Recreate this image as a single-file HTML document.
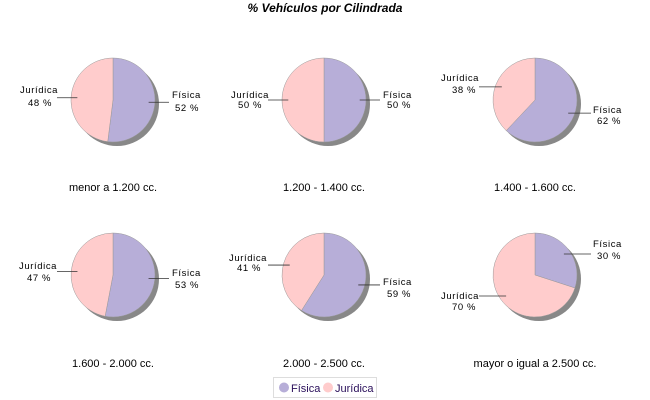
<!DOCTYPE html><html><head><style>body{margin:0;background:#fff}svg{display:block;font-family:"Liberation Sans",sans-serif}</style></head><body>
<svg id="s" width="650" height="400" xmlns="http://www.w3.org/2000/svg">
<rect width="650" height="400" fill="#fff"/>
<text x="325" y="12" text-anchor="middle" font-size="12" font-weight="bold" font-style="italic">% Vehículos por Cilindrada</text>
<g id="pies"></g>
<g font-size="9.5" letter-spacing="0.6" fill="#000">
<text x="20" y="93">Jurídica</text><text x="28" y="106">48 %</text>
<text x="172" y="98">Física</text><text x="175" y="111">52 %</text>
<text x="231" y="98">Jurídica</text><text x="238" y="108">50 %</text>
<text x="383" y="98">Física</text><text x="387" y="108">50 %</text>
<text x="441" y="81">Jurídica</text><text x="452" y="93">38 %</text>
<text x="593" y="113">Física</text><text x="597" y="124">62 %</text>
<text x="19" y="269">Jurídica</text><text x="27" y="281">47 %</text>
<text x="172" y="276">Física</text><text x="175" y="288">53 %</text>
<text x="229" y="261">Jurídica</text><text x="237" y="271">41 %</text>
<text x="383" y="285">Física</text><text x="387" y="297">59 %</text>
<text x="593" y="247">Física</text><text x="597" y="259">30 %</text>
<text x="441" y="299">Jurídica</text><text x="452" y="310">70 %</text>
</g>
<g font-size="11" text-anchor="middle">
<text x="113" y="191">menor a 1.200 cc.</text>
<text x="324" y="191">1.200 - 1.400 cc.</text>
<text x="535" y="191">1.400 - 1.600 cc.</text>
<text x="113" y="367">1.600 - 2.000 cc.</text>
<text x="324" y="367">2.000 - 2.500 cc.</text>
<text x="535" y="367">mayor o igual a 2.500 cc.</text>
</g>
<rect x="273.5" y="377.5" width="103" height="20" fill="#fff" stroke="#ddd"/>
<circle cx="284" cy="387.5" r="5" fill="#b7aed8"/><text x="291" y="392" font-size="11" fill="#2a0f5a">Física</text>
<circle cx="328" cy="387.5" r="5" fill="#ffcccc"/><text x="335" y="392" font-size="11" fill="#2a0f5a">Jurídica</text>
</svg>
<script>
var P=[[113,100,.52],[324,100,.50],[535,100,.62],[113,275,.53],[324,275,.59],[535,275,.30]],R=42,g=document.getElementById('pies'),h='';
function pt(cx,cy,a,r){return [cx+r*Math.sin(a),cy-r*Math.cos(a)];}
P.forEach(function(p){var cx=p[0],cy=p[1],f=p[2];
h+='<circle cx="'+(cx+4)+'" cy="'+(cy+4)+'" r="'+R+'" fill="#888"/>';
var a=2*Math.PI*f,e=pt(cx,cy,a,R),l=f>.5?1:0;
h+='<path d="M'+cx+','+cy+'L'+cx+','+(cy-R)+'A'+R+','+R+' 0 '+l+' 1 '+e[0]+','+e[1]+'Z" fill="#b7aed8" stroke="#999" stroke-width=".5"/>';
h+='<path d="M'+cx+','+cy+'L'+e[0]+','+e[1]+'A'+R+','+R+' 0 '+(1-l)+' 1 '+cx+','+(cy-R)+'Z" fill="#ffcccc" stroke="#999" stroke-width=".5"/>';
var m1=pt(cx,cy,a/2,R*0.85),m2=pt(cx,cy,a+(2*Math.PI-a)/2,R*0.85);
var s1=m1[0]>cx?1:-1,s2=m2[0]>cx?1:-1;
h+='<line x1="'+m1[0]+'" y1="'+m1[1]+'" x2="'+(cx+s1*(R+14))+'" y2="'+m1[1]+'" stroke="#333" stroke-width=".8"/>';
h+='<line x1="'+m2[0]+'" y1="'+m2[1]+'" x2="'+(cx+s2*(R+14))+'" y2="'+m2[1]+'" stroke="#333" stroke-width=".8"/>';
});
g.innerHTML=h;
</script>
</body></html>
